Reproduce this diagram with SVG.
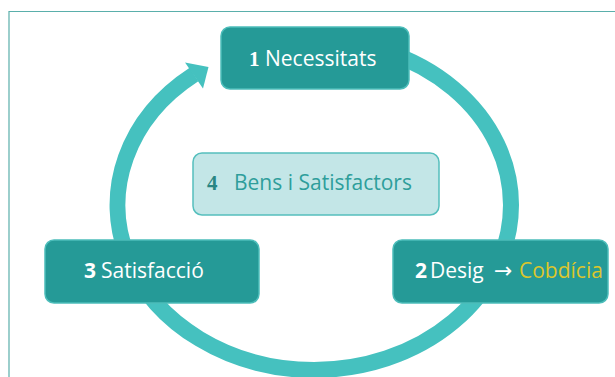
<svg xmlns="http://www.w3.org/2000/svg" width="615" height="377" viewBox="0 0 615 377">
  <defs>
    <style>
      .frame { fill: none; stroke: #5aafab; stroke-width: 1.2; }
      .ring { fill: none; stroke: #45c1bf; stroke-width: 16; }
      .head { fill: #45c1bf; }
      .dark { fill: #259a97; stroke: #4cbdba; stroke-width: 1.5; }
      .light { fill: #c3e6e7; stroke: #55bfbd; stroke-width: 1.5; }
      .lbl { font-family: "Open Sans", "Liberation Sans", sans-serif; font-size: 21px; }
      .w { fill: #ffffff; }
      .num { font-weight: bold; }
      .serifnum { font-family: "Liberation Serif", serif; font-weight: bold; }
      .arrow { font-family: "DejaVu Sans", sans-serif; font-size: 22px; }
      .t4 { fill: #2e9e9b; }
      .n4 { fill: #2a8683; }
      .gold { fill: #dcc62c; }
    </style>
  </defs>
  <rect x="0" y="0" width="615" height="377" fill="#ffffff"/>
  <path class="frame" d="M 9 377 L 9 11.5 L 615 11.5"/>

  <g id="connectors">
    <path class="ring" d="M 314 40 A 197 165 0 0 1 511 205 A 197 165 0 0 1 314 370 A 197 165 0 0 1 194 74.5"/>
    <polygon class="head" points="185,62.5 208.5,67 203,88.5"/>
  </g>

  <g id="node1">
    <rect class="dark" x="221" y="27" width="188" height="62" rx="9"/>
    <text class="lbl w" x="249" y="66"><tspan class="serifnum">1</tspan><tspan x="265">Necessitats</tspan></text>
  </g>

  <g id="node4">
    <rect class="light" x="193" y="153" width="246" height="62" rx="9"/>
    <text class="lbl" x="207" y="190"><tspan class="serifnum n4">4</tspan><tspan class="t4" x="234">Bens i Satisfactors</tspan></text>
  </g>

  <g id="node3">
    <rect class="dark" x="45" y="240" width="214" height="63" rx="9"/>
    <text class="lbl w" x="84" y="278"><tspan class="num">3</tspan><tspan x="101">Satisfacció</tspan></text>
  </g>

  <g id="node2">
    <rect class="dark" x="393" y="240" width="215" height="63" rx="9"/>
    <text class="lbl w" x="415" y="278"><tspan class="num">2</tspan><tspan x="430">Desig</tspan><tspan class="arrow" x="494">→</tspan><tspan class="gold" x="519">Cobdícia</tspan></text>
  </g>
</svg>
